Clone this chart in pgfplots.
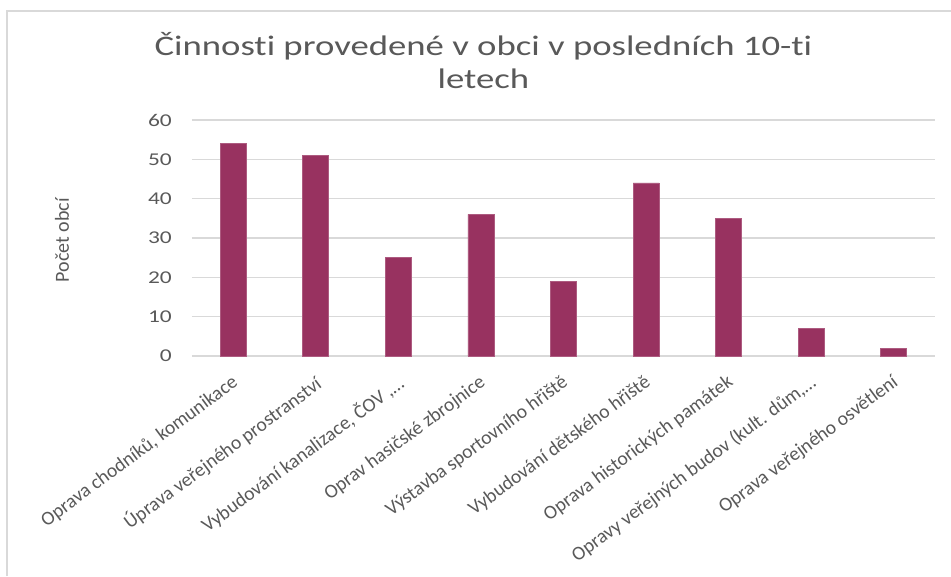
\documentclass[border=0pt]{standalone}
\usepackage{pgfplots}
\pgfplotsset{compat=1.18}
\usepackage{fontspec}
\setmainfont[Ligatures=NoCommon]{Carlito}
\newfontfamily\widefont[FakeStretch=1.3,Ligatures=NoCommon]{Carlito}
\definecolor{barc}{RGB}{152,50,96}
\definecolor{txt}{RGB}{89,89,89}
\definecolor{gridc}{RGB}{217,217,217}
\begin{document}
\begin{tikzpicture}
\begin{axis}[
  scale only axis,
  width=557.25pt, height=177pt,
  ymin=0, ymax=60, xmin=-0.5, xmax=8.5,
  ytick={0,10,...,60},
  xtick={0,...,8},
  xticklabels={Oprava chodníků{,} komunikace, Úprava veřejného prostranství, Vybudování kanalizace{,} ČOV {,}…, Oprav hasičské zbrojnice, Výstavba sportovního hřiště, Vybudování dětského hřiště, Oprava historických památek, Opravy veřejných budov (kult. dům{,}…, Oprava veřejného osvětlení},
  axis line style={draw=none},
  major tick length=0pt,
  ymajorgrids, grid style={gridc, line width=0.9pt},
  /pgf/number format/assume math mode=true,
  yticklabel style={font=\widefont\fontsize{13.5}{15}\selectfont, text=txt, inner sep=0pt, xshift=-15pt},
  xticklabel style={font=\fontsize{14.7}{17}\selectfont, text=txt, inner sep=0pt, xshift=-2pt, yshift=-13pt, rotate=36.5, anchor=north east},
]
\addplot[ybar, bar width=19.5pt, fill=barc, draw=barc!80!white, line width=0.5pt] coordinates {
(0,54) (1,51) (2,25) (3,36) (4,19) (5,44) (6,35) (7,7) (8,2)};
\end{axis}
\draw[gridc, line width=1.2pt] (-138.75pt,-165pt) -- (-138.75pt,258.75pt) -- (569.25pt,258.75pt);
\node[txt, align=center, font=\widefont\fontsize{21.2}{24.75}\selectfont] at (218.6pt,221.4pt) {Činnosti provedené v obci v posledních 10-ti\\letech};
\node[txt, rotate=90, font=\fontsize{15}{17}\selectfont] at (-97.5pt,87pt) {Počet obcí};
\pgfresetboundingbox
\useasboundingbox (-144pt,-165pt) rectangle (569.25pt,267pt);
\end{tikzpicture}
\end{document}
